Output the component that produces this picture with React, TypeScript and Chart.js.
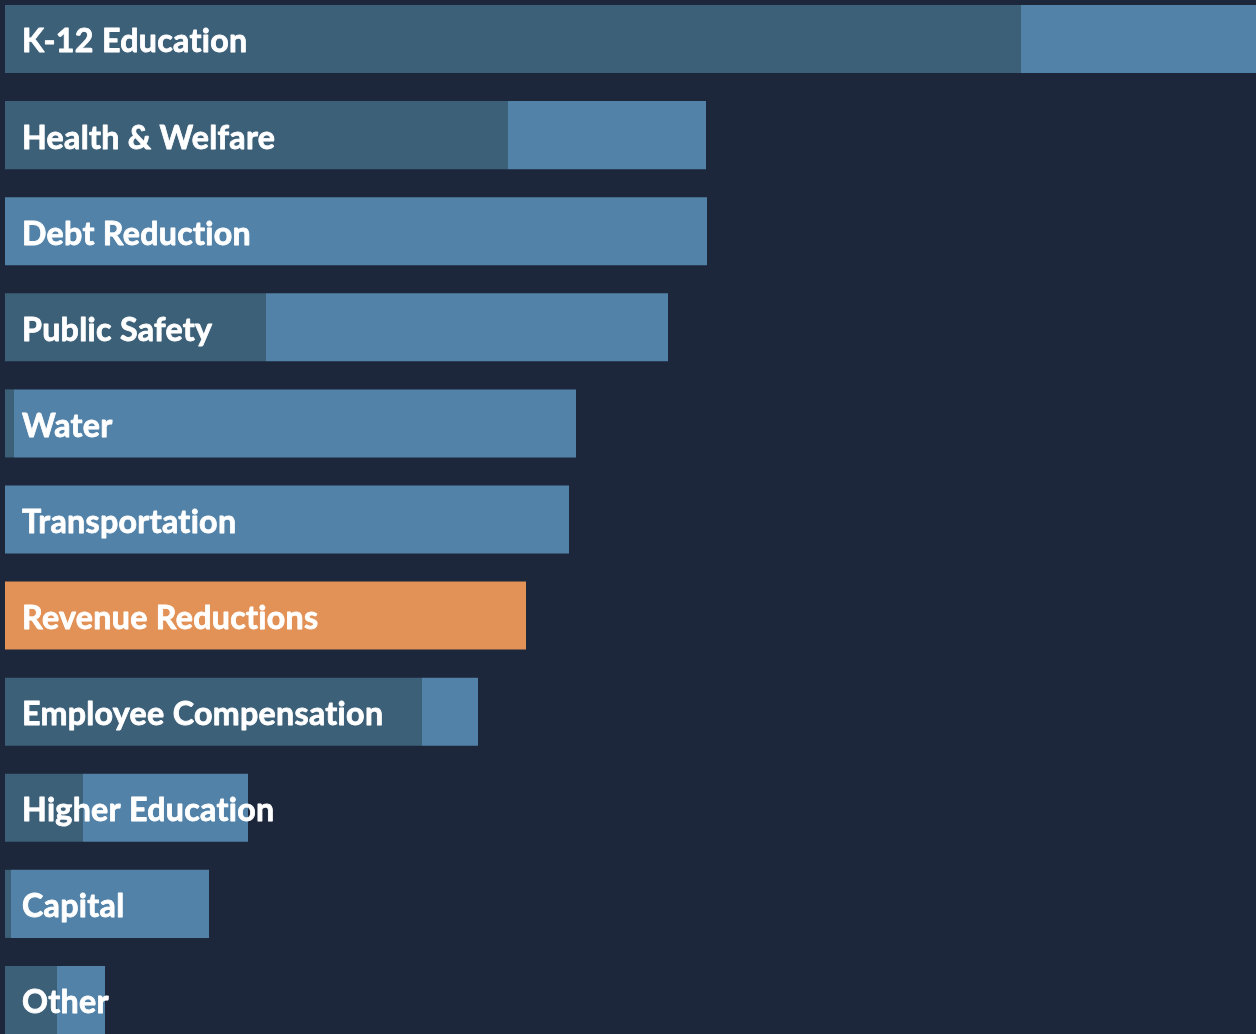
import React, { useEffect, useRef } from "react";
import { Chart, registerables } from "chart.js";

Chart.register(...registerables);

const categories = [
  "K-12 Education",
  "Health & Welfare",
  "Debt Reduction",
  "Public Safety",
  "Water",
  "Transportation",
  "Revenue Reductions",
  "Employee Compensation",
  "Higher Education",
  "Capital",
  "Other",
];

// first (darker) segment
const darkValues = [10.16, 5.03, 0, 2.61, 0.09, 0, 0, 4.17, 0.78, 0.06, 0.52];
// second (lighter) segment
const lightValues = [2.4, 1.98, 7.02, 4.02, 5.62, 5.64, 5.21, 0.56, 1.65, 1.98, 0.48];

const highlightCategory = "Revenue Reductions";

const BG = "#1d273b";
const DARK = "#3d6079";
const LIGHT = "#5282a8";
const ORANGE = "#e29157";

const labelPlugin = {
  id: "insideLabels",
  afterDatasetsDraw(chart: any) {
    const { ctx, chartArea, scales } = chart;
    ctx.save();
    ctx.fillStyle = "#ffffff";
    ctx.strokeStyle = "#ffffff";
    ctx.lineWidth = 0.8;
    ctx.lineJoin = "round";
    ctx.font = "bold 32.2px Lato";
    try {
      (ctx as any).letterSpacing = "0.3px";
    } catch (e) {}
    ctx.textAlign = "left";
    ctx.textBaseline = "middle";
    categories.forEach((c, i) => {
      const y = scales.y.getPixelForValue(i);
      ctx.fillText(c, chartArea.left + 17, y + 3);
      ctx.strokeText(c, chartArea.left + 17, y + 3);
    });
    ctx.restore();
  },
};

export default function App() {
  const ref = useRef<HTMLCanvasElement | null>(null);

  useEffect(() => {
    if (!ref.current) return;
    const chart = new Chart(ref.current, {
      type: "bar",
      data: {
        labels: categories,
        datasets: [
          {
            label: "dark",
            data: darkValues,
            backgroundColor: DARK,
            borderWidth: 0,
            barPercentage: 68 / 96,
            categoryPercentage: 1,
          },
          {
            label: "light",
            data: lightValues,
            backgroundColor: categories.map((c) => (c === highlightCategory ? ORANGE : LIGHT)),
            borderWidth: 0,
            barPercentage: 68 / 96,
            categoryPercentage: 1,
          },
        ],
      },
      options: {
        indexAxis: "y",
        animation: false,
        responsive: false,
        maintainAspectRatio: false,
        layout: { padding: { left: 5, right: 0, top: 0, bottom: 0 } },
        plugins: {
          legend: { display: false },
          tooltip: { enabled: false },
        },
        scales: {
          x: { stacked: true, display: false, min: 0, max: 12.51 },
          y: { stacked: true, display: false },
        },
      },
      plugins: [labelPlugin],
    });
    return () => chart.destroy();
  }, []);

  return (
    <div
      style={{
        position: "fixed",
        left: 0,
        top: 0,
        width: "100vw",
        height: "100vh",
        background: BG,
        overflow: "hidden",
      }}
    >
      <canvas
        ref={ref}
        width={1256}
        height={1057}
        style={{ position: "absolute", left: 0, top: -9, width: 1256, height: 1057, display: "block" }}
      />
    </div>
  );
}
